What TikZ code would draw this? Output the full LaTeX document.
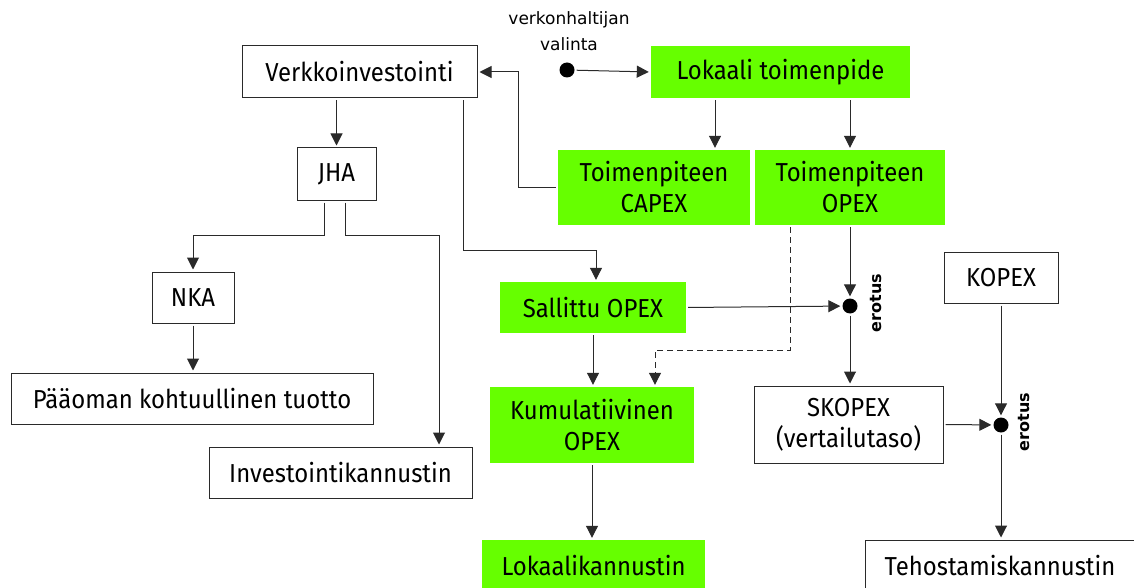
\documentclass[tikz,border=0pt]{standalone}
\usepackage{fontspec}
\setmainfont[FakeStretch=0.92]{Fira Sans}
\newfontfamily\smallfam{DejaVu Sans}
\usetikzlibrary{arrows.meta}
\definecolor{lime}{HTML}{66FF00}
\definecolor{edge}{HTML}{2A2A2A}
\begin{document}
\begin{tikzpicture}[x=1pt,y=-1pt,
  box/.style={draw=edge, line width=1pt, fill=white, inner sep=0pt, align=center, font=\fontsize{26}{31}\selectfont},
  gbox/.style={fill=lime, inner sep=0pt, align=center, font=\fontsize{26}{31}\selectfont},
  dot/.style={circle, fill=black, inner sep=0pt, minimum size=15pt},
  arr/.style={-{Triangle[length=12pt,width=12pt]}, line width=1pt, draw=edge, shorten <=2pt, shorten >=2pt},
  small/.style={font=\smallfam\fontsize{17}{26}\selectfont, align=center, inner sep=0pt},
  lbl/.style={font=\smallfam\bfseries\fontsize{16}{18}\selectfont, rotate=90, inner sep=0pt},
]
\useasboundingbox (0,0) rectangle (1134,588);
\clip (0,0) rectangle (1134,588);
% nodes
\node[box, minimum width=235pt, minimum height=52pt] (verk) at (359.5,72) {Verkkoinvestointi};
\node[gbox, minimum width=259pt, minimum height=52pt] (lok) at (780.5,72) {Lokaali toimenpide};
\node[gbox, minimum width=192pt, minimum height=75pt] (capex) at (654,187.5) {Toimenpiteen\\CAPEX};
\node[gbox, minimum width=190pt, minimum height=75pt] (opex) at (850,187.5) {Toimenpiteen\\OPEX};
\node[box, minimum width=79pt, minimum height=52pt] (jha) at (336.5,174) {JHA};
\node[box, minimum width=82pt, minimum height=51pt] (nka) at (193,297.5) {NKA};
\node[box, minimum width=362pt, minimum height=51pt] (paa) at (192,398.5) {Pääoman kohtuullinen tuotto};
\node[box, minimum width=263pt, minimum height=51pt] (inv) at (340.5,472.5) {Investointikannustin};
\node[gbox, minimum width=186pt, minimum height=51pt] (sal) at (593,307.5) {Sallittu OPEX};
\node[gbox, minimum width=204pt, minimum height=76pt] (kum) at (592,425) {Kumulatiivinen\\OPEX};
\node[box, minimum width=189pt, minimum height=77pt] (skopex) at (848.5,424.5) {SKOPEX\\(vertailutaso)};
\node[box, minimum width=114pt, minimum height=51pt] (kopex) at (1001,277.5) {KOPEX};
\node[gbox, minimum width=223pt, minimum height=52pt] (lokk) at (593.5,566) {Lokaalikannustin};
\node[box, minimum width=270pt, minimum height=52pt] (teho) at (1000,566) {Tehostamiskannustin};
\node[dot] (d0) at (567,70) {};
\node[dot] (d1) at (850,306) {};
\node[dot] (d2) at (1001,425) {};
\node[small] (valinta) at (569,31) {verkonhaltijan\\valinta};
\node[lbl] (e1) at (876,303) {erotus};
\node[lbl] (e2) at (1024,422) {erotus};
% connectors
\draw[arr] (d0) -- (lok.west);
\draw[arr] (capex.west) -- ++(-39,0) |- (verk.east);
\draw[arr] ([xshift=-65.5pt]lok.south) -- ([xshift=-65.5pt]lok.south |- capex.north);
\draw[arr] (opex.north |- lok.south) -- (opex.north);
\draw[arr] (jha.north |- verk.south) -- (jha.north);
\draw[arr] ([xshift=-12.5pt]jha.south) -- ++(0,35) -| (nka.north);
\draw[arr] ([xshift=8.5pt]jha.south) -- ++(0,35) -| ([xshift=98.5pt]inv.north);
\draw[arr] (nka.south) -- (nka.south |- paa.north);
\draw[arr] ([xshift=103.5pt]verk.south) -- ++(0,152) -| ([xshift=3pt]sal.north);
\draw[arr] (sal.east) -- (d1);
\draw[arr] (opex.south) -- (d1);
\draw[arr] (d1) -- (d1 |- skopex.north);
\draw[arr, dashed, dash pattern=on 6pt off 4pt] ([xshift=-60pt]opex.south) -- ++(0,125) -| ([xshift=63pt]kum.north);
\draw[arr] (sal.south) -- (sal.south |- kum.north);
\draw[arr] (kum.south) -- (kum.south |- lokk.north);
\draw[arr] (skopex.east) -- (d2);
\draw[arr] (kopex.south) -- (d2);
\draw[arr] (d2) -- (d2 |- teho.north);
\end{tikzpicture}
\end{document}
